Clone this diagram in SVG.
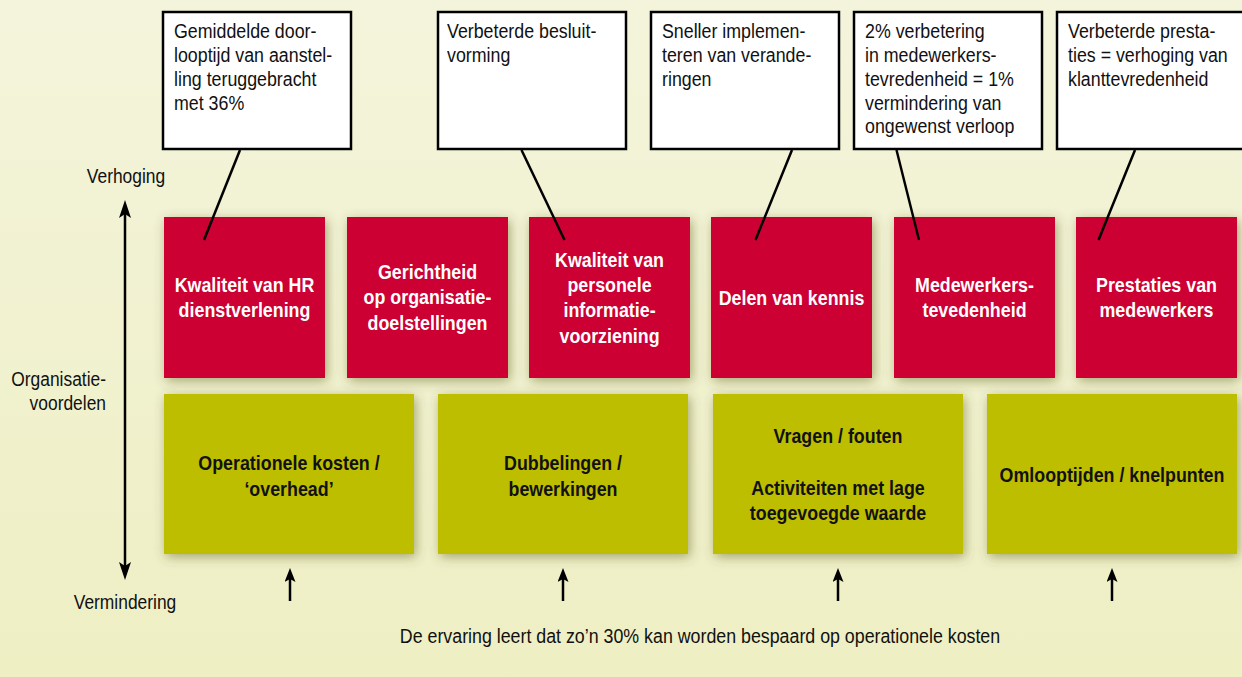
<svg xmlns="http://www.w3.org/2000/svg" width="1242" height="677" viewBox="0 0 1242 677">
<defs>
<linearGradient id="bg" x1="0" y1="0" x2="0" y2="1">
<stop offset="0" stop-color="#f4f4dc"/>
<stop offset="1" stop-color="#eeefc3"/>
</linearGradient>
<filter id="sh" x="-20%" y="-20%" width="140%" height="140%">
<feDropShadow dx="2" dy="3" stdDeviation="6" flood-color="#4a4a10" flood-opacity="0.45"/>
</filter>
<marker id="ah" viewBox="0 0 18 12" refX="8" refY="6" markerUnits="userSpaceOnUse" markerWidth="18" markerHeight="12" orient="auto-start-reverse">
<path d="M0,0 L18,6 L0,12 L4,6 z" fill="#000"/>
</marker>
<marker id="ahs" viewBox="0 0 14 11" refX="6" refY="5.5" markerUnits="userSpaceOnUse" markerWidth="14" markerHeight="11" orient="auto">
<path d="M0,0 L14,5.5 L0,11 L3,5.5 z" fill="#000"/>
</marker>
</defs>
<style>
text{font-family:"Liberation Sans Narrow","Liberation Sans",Arial,sans-serif;}
.lbl{font-size:20px;fill:#111;}
.co rect{fill:#fff;stroke:#000;stroke-width:2.5;}
.co text{font-size:20px;fill:#111;}
.red rect{fill:#cc0033;filter:url(#sh);}
.red text{font-size:21px;font-weight:bold;fill:#fff;text-anchor:middle;}
.grn rect{fill:#bebe00;filter:url(#sh);}
.grn text{font-size:21px;font-weight:bold;fill:#111;text-anchor:middle;}
.ld{stroke:#000;stroke-width:2.5;fill:none;}
.ar{stroke:#000;stroke-width:2.5;fill:none;}
</style>
<rect x="0" y="0" width="1242" height="677" fill="url(#bg)"/>

<g id="axis-labels">
<g transform="translate(126 0) scale(0.87 1)"><text class="lbl" x="0" y="183" text-anchor="middle">Verhoging</text></g>
<g transform="translate(106 0) scale(0.87 1)"><text class="lbl" x="0" y="386" text-anchor="end">Organisatie-</text>
<text class="lbl" x="0" y="410" text-anchor="end">voordelen</text></g>
<g transform="translate(125 0) scale(0.87 1)"><text class="lbl" x="0" y="609" text-anchor="middle">Vermindering</text></g>
<g transform="translate(700 0) scale(0.89 1)"><text class="lbl" x="0" y="643" text-anchor="middle">De ervaring leert dat zo’n 30% kan worden bespaard op operationele kosten</text></g>
</g>

<g id="red-1" class="red"><rect x="164" y="217" width="161" height="161"/>
<g transform="translate(244.5 0) scale(0.85 1)"><text x="0" y="292">Kwaliteit van HR</text><text x="0" y="317">dienstverlening</text></g></g>
<g id="red-2" class="red"><rect x="347" y="217" width="161" height="161"/>
<g transform="translate(427.5 0) scale(0.85 1)"><text x="0" y="279">Gerichtheid</text><text x="0" y="304">op organisatie-</text><text x="0" y="330">doelstellingen</text></g></g>
<g id="red-3" class="red"><rect x="529" y="217" width="161" height="161"/>
<g transform="translate(609.5 0) scale(0.85 1)"><text x="0" y="267">Kwaliteit van</text><text x="0" y="292">personele</text><text x="0" y="317">informatie-</text><text x="0" y="343">voorziening</text></g></g>
<g id="red-4" class="red"><rect x="711" y="217" width="161" height="161"/>
<g transform="translate(791.5 0) scale(0.85 1)"><text x="0" y="305">Delen van kennis</text></g></g>
<g id="red-5" class="red"><rect x="894" y="217" width="161" height="161"/>
<g transform="translate(974.5 0) scale(0.85 1)"><text x="0" y="292">Medewerkers-</text><text x="0" y="317">tevedenheid</text></g></g>
<g id="red-6" class="red"><rect x="1076" y="217" width="161" height="161"/>
<g transform="translate(1156.5 0) scale(0.85 1)"><text x="0" y="292">Prestaties van</text><text x="0" y="317">medewerkers</text></g></g>

<g id="green-1" class="grn"><rect x="164" y="394" width="250" height="160"/>
<g transform="translate(289 0) scale(0.85 1)"><text x="0" y="470">Operationele kosten /</text><text x="0" y="496">‘overhead’</text></g></g>
<g id="green-2" class="grn"><rect x="438" y="394" width="250" height="160"/>
<g transform="translate(563 0) scale(0.85 1)"><text x="0" y="470">Dubbelingen /</text><text x="0" y="496">bewerkingen</text></g></g>
<g id="green-3" class="grn"><rect x="713" y="394" width="250" height="160"/>
<g transform="translate(838 0) scale(0.85 1)"><text x="0" y="443">Vragen / fouten</text><text x="0" y="495">Activiteiten met lage</text><text x="0" y="520">toegevoegde waarde</text></g></g>
<g id="green-4" class="grn"><rect x="987" y="394" width="250" height="160"/>
<g transform="translate(1112 0) scale(0.85 1)"><text x="0" y="482">Omlooptijden / knelpunten</text></g></g>

<g id="callout-1" class="co"><rect x="163" y="12" width="188" height="137"/>
<g transform="translate(174 0) scale(0.89 1)"><text x="0" y="38">Gemiddelde door-</text><text x="0" y="62">looptijd van aanstel-</text><text x="0" y="86">ling teruggebracht</text><text x="0" y="110">met 36%</text></g></g>
<g id="callout-2" class="co"><rect x="438" y="12" width="188" height="137"/>
<g transform="translate(447 0) scale(0.89 1)"><text x="0" y="38">Verbeterde besluit-</text><text x="0" y="62">vorming</text></g></g>
<g id="callout-3" class="co"><rect x="651" y="12" width="188" height="137"/>
<g transform="translate(662 0) scale(0.89 1)"><text x="0" y="38">Sneller implemen-</text><text x="0" y="62">teren van verande-</text><text x="0" y="86">ringen</text></g></g>
<g id="callout-4" class="co"><rect x="854" y="12" width="188" height="137"/>
<g transform="translate(865 0) scale(0.89 1)"><text x="0" y="38">2% verbetering</text><text x="0" y="62">in medewerkers-</text><text x="0" y="86">tevredenheid = 1%</text><text x="0" y="110">vermindering van</text><text x="0" y="133">ongewenst verloop</text></g></g>
<g id="callout-5" class="co"><rect x="1057" y="12" width="190" height="137"/>
<g transform="translate(1068 0) scale(0.89 1)"><text x="0" y="38">Verbeterde presta-</text><text x="0" y="62">ties = verhoging van</text><text x="0" y="86">klanttevredenheid</text></g></g>

<g id="connectors">
<line class="ld" x1="240" y1="150" x2="204" y2="240"/>
<line class="ld" x1="521.5" y1="150" x2="564.5" y2="240"/>
<line class="ld" x1="792" y1="150" x2="755.5" y2="240"/>
<line class="ld" x1="896.5" y1="150" x2="919" y2="240"/>
<line class="ld" x1="1135" y1="150" x2="1098.5" y2="240"/>
<line class="ar" x1="125" y1="210" x2="125" y2="570" marker-start="url(#ah)" marker-end="url(#ah)"/>
<line class="ar" x1="290" y1="601" x2="290" y2="576" marker-end="url(#ahs)"/>
<line class="ar" x1="563" y1="601" x2="563" y2="576" marker-end="url(#ahs)"/>
<line class="ar" x1="838" y1="601" x2="838" y2="576" marker-end="url(#ahs)"/>
<line class="ar" x1="1112" y1="601" x2="1112" y2="576" marker-end="url(#ahs)"/>
</g>
</svg>
